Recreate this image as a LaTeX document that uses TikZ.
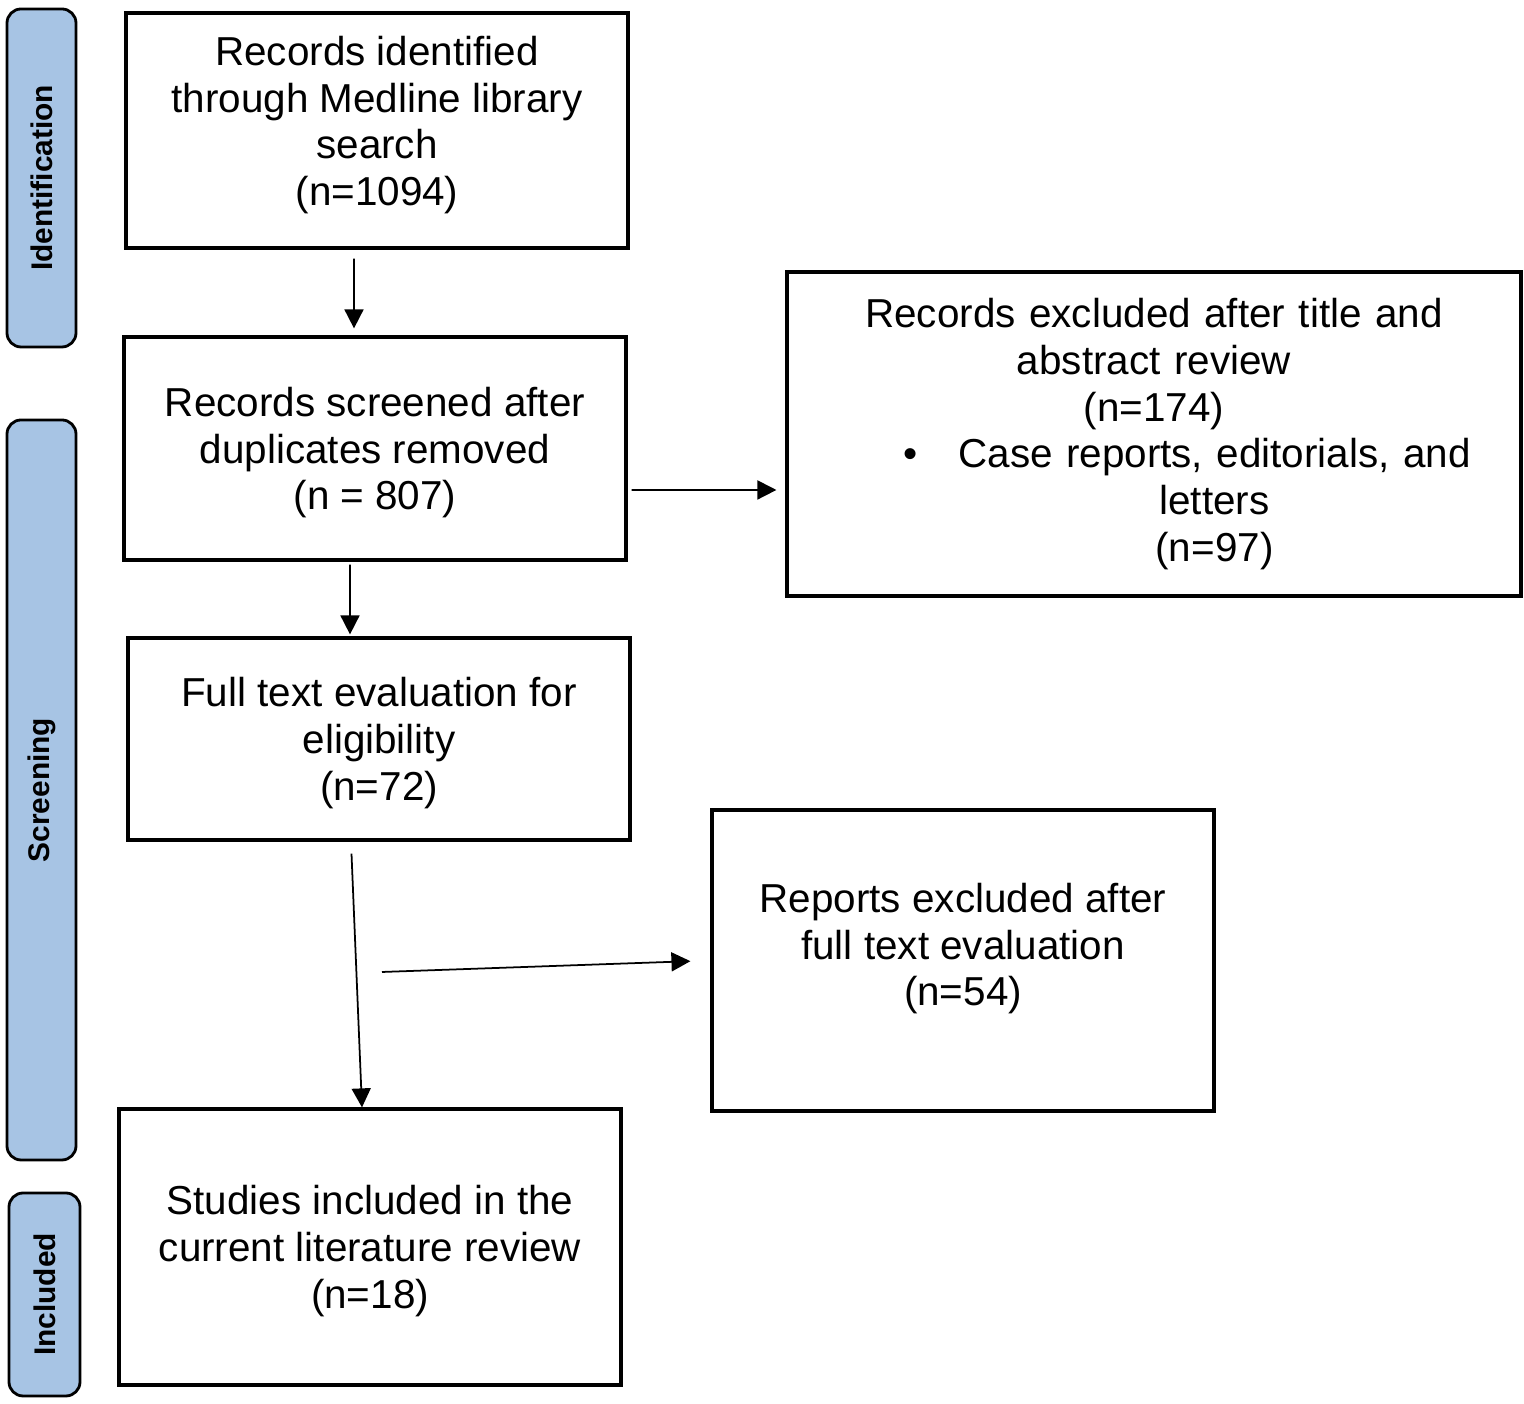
\documentclass[tikz,border=0pt]{standalone}
\usepackage{fontspec}
\setmainfont{Liberation Sans}
\usepackage{xcolor}
\usetikzlibrary{arrows.meta}
\definecolor{stagefill}{RGB}{167,196,228}

\begin{document}
\begin{tikzpicture}[
    every node/.style={font=\fontsize{11.5}{13.3}\selectfont},
    flowbox/.style={draw, line width=0.9pt, minimum width=5.02cm, align=center, inner sep=0pt, text depth=0pt},
    stagebar/.style={draw, line width=0.8pt, fill=stagefill, rounded corners=4pt, rotate=90,
      minimum height=0.69cm, inner sep=0pt, font=\fontsize{8.5}{10}\selectfont\bfseries},
    flowarrow/.style={-{Triangle[length=0.19cm,width=0.19cm]}, line width=0.5pt}
  ]
  \useasboundingbox (0,0) rectangle (15.24,14.04);

  % ========== Stage bars on the left ==========
  \node[stagebar, minimum width=3.38cm] (identification) at (0.415,12.26) {Identification};
  \node[stagebar, minimum width=7.40cm] (screening) at (0.415,6.14) {Screening};
  \node[stagebar, minimum width=2.03cm, minimum height=0.71cm] (included) at (0.445,1.095) {Included};

  % ========== Main column ==========
  \node[flowbox, minimum height=2.35cm, text depth=0.19cm] (identified) at (3.77,12.735)
    {Records identified\\through Medline library\\search\\(n=1094)};
  \node[flowbox, minimum height=2.23cm] (screened) at (3.75,9.555)
    {Records screened after\\duplicates removed\\(n = 807)};
  \node[flowbox, minimum height=2.02cm] (fulltext) at (3.79,6.65)
    {Full text evaluation for\\eligibility\\(n=72)};
  \node[flowbox, minimum height=2.76cm] (studies) at (3.70,1.57)
    {Studies included in the\\current literature review\\(n=18)};

  % ========== Exclusions ==========
  \node[flowbox, minimum width=7.34cm, minimum height=3.24cm, text width=7.0cm, text depth=] (excluded) at (11.54,9.70)
    {Records excluded after title and\\abstract review\\(n=174)\\
     \makebox[7.0cm][l]{\hspace*{1.07cm}\makebox[0pt]{\textbullet}\hspace*{0.385cm}%
       \parbox[t]{5.3cm}{\centering Case reports, editorials, and\\letters\\(n=97)}}};
  \node[flowbox, minimum height=3.01cm, text depth=0.32cm] (reports) at (9.63,4.435)
    {Reports excluded after\\full text evaluation\\(n=54)};

  % --- Arrows ---
  \draw[flowarrow, shorten <=0.09cm, shorten >=0.07cm] ([xshift=-0.23cm]identified.south) -- ([xshift=-0.21cm]screened.north);
  \draw[flowarrow, shorten <=0.03cm, shorten >=0.02cm] ([xshift=-0.25cm]screened.south) -- ([xshift=-0.29cm]fulltext.north);
  \draw[flowarrow, shorten <=0.04cm, shorten >=0.09cm] ([yshift=-0.415cm]screened.east) -- ([yshift=-0.56cm]excluded.west);
  \draw[flowarrow, shorten <=0.12cm] ([xshift=-0.28cm]fulltext.south) -- ([xshift=-0.08cm]studies.north);
  \coordinate (split) at (3.82,4.32);
  \draw[flowarrow, shorten >=0.20cm] (split) -- (reports.west);

\end{tikzpicture}
\end{document}
